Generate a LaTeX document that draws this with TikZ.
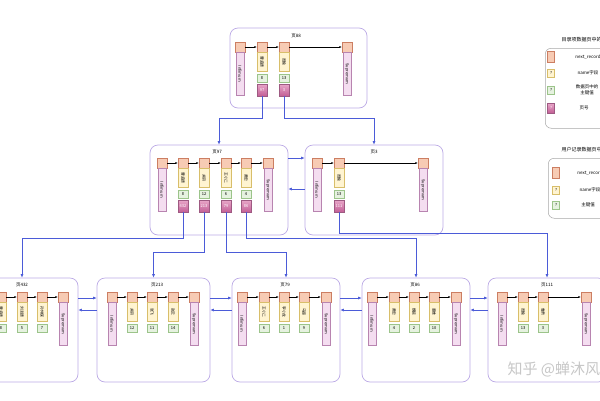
\documentclass[tikz,border=0pt]{standalone}
\usepackage{fontspec}
\setmainfont{Noto Sans CJK SC}
\usepackage{graphicx}
\usetikzlibrary{arrows.meta}
\definecolor{hdrF}{HTML}{F7CBB4}
\definecolor{hdrD}{HTML}{CC7E62}
\definecolor{nmF}{HTML}{FFF4D1}
\definecolor{nmD}{HTML}{D8BE6A}
\definecolor{kyF}{HTML}{E6F2E0}
\definecolor{kyD}{HTML}{9CC48A}
\definecolor{pgT}{HTML}{E8A6C8}
\definecolor{pgB}{HTML}{C25E95}
\definecolor{pgD}{HTML}{9E5A82}
\definecolor{bdF}{HTML}{F4DDF0}
\definecolor{bdD}{HTML}{B884B0}
\definecolor{pageD}{HTML}{BCAAE6}
\definecolor{linkC}{HTML}{4B5BD8}
\definecolor{legD}{HTML}{A8A8A8}
\tikzset{
  cell/.style={draw, rectangle, inner sep=0pt, line width=0.4pt},
  hdr/.style={cell, draw=hdrD, fill=hdrF, minimum width=10pt, minimum height=10pt,
    path picture={\fill (path picture bounding box.center) circle (0.8pt);}},
  hdrsw/.style={cell, draw=hdrD, fill=hdrF, minimum width=7pt, minimum height=11pt},
  nmc/.style={cell, draw=nmD, fill=nmF, minimum width=10pt, minimum height=19pt, font=\fontsize{3.8}{4}\selectfont},
  kyc/.style={cell, draw=kyD, fill=kyF, minimum width=10pt, minimum height=8pt, font=\fontsize{4}{4}\selectfont},
  pgc/.style={cell, draw=pgD, top color=pgT, bottom color=pgB, minimum width=10pt, minimum height=12pt, font=\fontsize{4}{4}\selectfont, text=white},
  bound/.style={cell, draw=bdD, fill=bdF, minimum width=8pt, minimum height=43pt, font=\fontsize{4}{4}\selectfont},
  pagebox/.style={draw=pageD, rounded corners=8pt, line width=0.7pt, fill=white, inner sep=0pt},
  ptitle/.style={font=\fontsize{4.5}{5}\selectfont},
  nxt/.style={-{Latex[length=2.5pt,width=2pt]}, line width=0.4pt, black},
  link/.style={-{Latex[length=3.5pt,width=3pt]}, line width=0.6pt, linkC},
  legbox/.style={draw=legD, rounded corners=6pt, line width=0.5pt, fill=white},
  legtxt/.style={font=\fontsize{4.5}{5.5}\selectfont, align=center},
  legtitle/.style={font=\fontsize{5}{6}\selectfont, anchor=west},
}
\newcommand\hrec[5]{%
  \node[hdr] (#1h) at (#2,#3) {};
  \node[nmc, anchor=north] (#1n) at (#1h.south) {\rotatebox{-90}{#4}};
  \node[kyc, anchor=north, yshift=-2pt] (#1k) at (#1n.south) {#5};}
\newcommand\drec[6]{\hrec{#1}{#2}{#3}{#4}{#5}%
  \node[pgc, anchor=north, yshift=-2pt] (#1p) at (#1k.south) {#6};}
\newcommand\brec[4]{%
  \node[hdr] (#1h) at (#2,#3) {};
  \node[bound, anchor=north] (#1b) at (#1h.south) {\rotatebox{-90}{#4}};}
\begin{document}
\begin{tikzpicture}[x=1pt, y=-1pt]
\useasboundingbox (0,0) rectangle (600,400);
\clip (0,0) rectangle (600,400);
\fill[white] (0,0) rectangle (600,400);

% ---------- page boxes ----------
\node[pagebox, minimum width=137pt, minimum height=80pt] (p88) at (298.5,68) {};
\node[pagebox, minimum width=138pt, minimum height=90pt] (p97) at (219,190) {};
\node[pagebox, minimum width=138pt, minimum height=90pt] (p3) at (374,190) {};
\node[pagebox, minimum width=112pt, minimum height=104pt] (p432) at (22,330) {};
\node[pagebox, minimum width=113pt, minimum height=104pt] (p213) at (153.5,330) {};
\node[pagebox, minimum width=108pt, minimum height=104pt] (p79) at (286,330) {};
\node[pagebox, minimum width=108pt, minimum height=104pt] (p86) at (416,330) {};
\node[pagebox, minimum width=118pt, minimum height=104pt] (p111) at (547,330) {};

\node[ptitle] (t88) at (296,36) {页88};
\node[ptitle] (t97) at (217,152) {页97};
\node[ptitle] (t3) at (374,152) {页3};
\node[ptitle] (t432) at (22,285) {页432};
\node[ptitle] (t213) at (157,285) {页213};
\node[ptitle] (t79) at (285,285) {页79};
\node[ptitle] (t86) at (415,285) {页86};
\node[ptitle] (t111) at (547,285) {页111};

% ---------- page 88 ----------
\brec{i88}{240}{47}{Infimum}
\drec{r88a}{262}{47}{曹孟德}{8}{97}
\drec{r88b}{284}{47}{周瑜}{13}{3}
\brec{s88}{347}{47}{Supremum}
\draw[nxt] (i88h) -- (r88ah);
\draw[nxt] (r88ah) -- (r88bh);
\draw[nxt] (r88bh) -- (s88h);

% ---------- page 97 ----------
\brec{i97}{162}{163}{Infimum}
\drec{r97a}{183}{163}{曹孟德}{8}{432}
\drec{r97b}{204}{163}{关羽}{12}{213}
\drec{r97c}{226}{163}{王小二}{6}{79}
\drec{r97d}{246}{163}{黄忠}{4}{86}
\brec{s97}{268}{163}{Supremum}
\draw[nxt] (i97h) -- (r97ah);
\draw[nxt] (r97ah) -- (r97bh);
\draw[nxt] (r97bh) -- (r97ch);
\draw[nxt] (r97ch) -- (r97dh);
\draw[nxt] (r97dh) -- (s97h);

% ---------- page 3 ----------
\brec{i3}{317}{163}{Infimum}
\drec{r3a}{339}{163}{周瑜}{13}{111}
\brec{s3}{423}{163}{Supremum}
\draw[nxt] (i3h) -- (r3ah);
\draw[nxt] (r3ah) -- (s3h);

% ---------- leaf 432 ----------
\brec{i432}{-20}{297}{Infimum}
\hrec{r432a}{1}{297}{曹孟德}{8}
\hrec{r432b}{22}{297}{刘玄德}{5}
\hrec{r432c}{42}{297}{孙仲谋}{7}
\brec{s432}{63}{297}{Supremum}
\draw[nxt] (i432h) -- (r432ah);
\draw[nxt] (r432ah) -- (r432bh);
\draw[nxt] (r432bh) -- (r432ch);
\draw[nxt] (r432ch) -- (s432h);

% ---------- leaf 213 ----------
\brec{i213}{112}{297}{Infimum}
\hrec{r213a}{132}{297}{关羽}{12}
\hrec{r213b}{152}{297}{张飞}{11}
\hrec{r213c}{173}{297}{赵云}{14}
\brec{s213}{194}{297}{Supremum}
\draw[nxt] (i213h) -- (r213ah);
\draw[nxt] (r213ah) -- (r213bh);
\draw[nxt] (r213bh) -- (r213ch);
\draw[nxt] (r213ch) -- (s213h);

% ---------- leaf 79 ----------
\brec{i79}{242}{297}{Infimum}
\hrec{r79a}{264}{297}{王小二}{6}
\hrec{r79b}{284}{297}{李小龙}{1}
\hrec{r79c}{304}{297}{马超}{9}
\brec{s79}{326}{297}{Supremum}
\draw[nxt] (i79h) -- (r79ah);
\draw[nxt] (r79ah) -- (r79bh);
\draw[nxt] (r79bh) -- (r79ch);
\draw[nxt] (r79ch) -- (s79h);

% ---------- leaf 86 ----------
\brec{i86}{372}{297}{Infimum}
\hrec{r86a}{394}{297}{黄忠}{4}
\hrec{r86b}{414}{297}{魏延}{2}
\hrec{r86c}{434}{297}{姜维}{10}
\brec{s86}{456}{297}{Supremum}
\draw[nxt] (i86h) -- (r86ah);
\draw[nxt] (r86ah) -- (r86bh);
\draw[nxt] (r86bh) -- (r86ch);
\draw[nxt] (r86ch) -- (s86h);

% ---------- leaf 111 ----------
\brec{i111}{502}{297}{Infimum}
\hrec{r111a}{523}{297}{周瑜}{13}
\hrec{r111b}{543}{297}{鲁肃}{3}
\brec{s111}{586}{297}{Supremum}
\draw[nxt] (i111h) -- (r111ah);
\draw[nxt] (r111ah) -- (r111bh);
\draw[nxt] (r111bh) -- (s111h);

% ---------- links between levels ----------
\draw[link] (r88ap.south) -- (r88ap.south |- 0,118) -| (p97.north);
\draw[link] (r88bp.south) -- (r88bp.south |- 0,118) -| (p3.north);
\draw[link] (r97ap.south) -- (r97ap.south |- 0,238) -| (p432.north);
\draw[link] (r97bp.south) -- (r97bp.south |- 0,252) -| (p213.north);
\draw[link] (r97cp.south) -- (r97cp.south |- 0,252) -| (p79.north);
\draw[link] (r97dp.south) -- (r97dp.south |- 0,238) -| (p86.north);
\draw[link] (r3ap.south) -- (r3ap.south |- 0,233) -| (p111.north);

% ---------- sibling links ----------
\draw[link] (p97.east |- 0,158) -- (p3.west |- 0,158);
\draw[link] (p3.west |- 0,189) -- (p97.east |- 0,189);
\foreach \a/\b in {p432/p213, p213/p79, p79/p86, p86/p111}{
  \draw[link] (\a.east |- 0,298) -- (\b.west |- 0,298);
  \draw[link] (\b.west |- 0,310) -- (\a.east |- 0,310);
}

% ---------- legend 1 ----------
\node[legtitle] (lg1t) at (558,40) {目录项数据页中的记录};
\node[legbox, minimum width=70pt, minimum height=80pt, anchor=north west] (lg1) at (545,48) {};
\node[hdrsw] (lg1a) at (551,57) {};
\node[legtxt] (lg1at) at (588,57) {next\_record};
\node[nmc, minimum width=7pt, minimum height=8pt, font=\fontsize{4}{4}\selectfont] (lg1b) at (551,73) {?};
\node[legtxt] (lg1bt) at (588,73) {name字段};
\node[kyc, minimum width=7pt, minimum height=8pt] (lg1c) at (551,90) {?};
\node[legtxt] (lg1ct) at (587,90) {数据页中的\\主键值};
\node[pgc, minimum width=7pt, minimum height=10pt] (lg1d) at (551,108) {?};
\node[legtxt] (lg1dt) at (584,108) {页号};

% ---------- legend 2 ----------
\node[legtitle] (lg2t) at (558,150) {用户记录数据页中的记录};
\node[legbox, minimum width=70pt, minimum height=60pt, anchor=north west] (lg2) at (548,158) {};
\node[hdrsw] (lg2a) at (556,173) {};
\node[legtxt] (lg2at) at (590,173) {next\_record};
\node[nmc, minimum width=7pt, minimum height=8pt, font=\fontsize{4}{4}\selectfont] (lg2b) at (556,190) {?};
\node[legtxt] (lg2bt) at (590,190) {name字段};
\node[kyc, minimum width=7pt, minimum height=8pt] (lg2c) at (556,205) {?};
\node[legtxt] (lg2ct) at (588,205) {主键值};

% ---------- watermark ----------
\node[anchor=west, text=black!22, font=\fontsize{15}{15}\selectfont] (wm) at (504,369) {知乎 @蝉沐风};
\end{tikzpicture}
\end{document}
